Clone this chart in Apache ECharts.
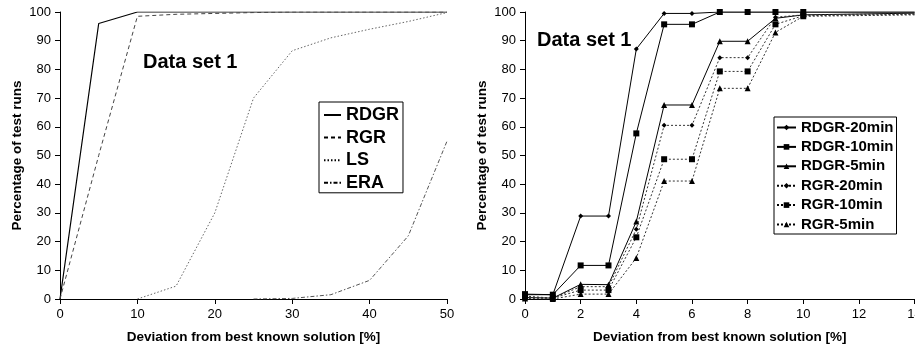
<!DOCTYPE html>
<html><head><meta charset="utf-8">
<script src="https://cdn.jsdelivr.net/npm/echarts@6/dist/echarts.min.js"></script>
<style>html,body{margin:0;padding:0;background:#fff}#c{width:915px;height:350px}</style>
</head><body><div id="c"></div>
<script>
// Left chart data (x in %, y in %)
const leftX = [0, 5, 10, 15, 20, 25, 30, 35, 40, 45, 50];
const RDGR = [0, 96, 100, 100, 100, 100, 100, 100, 100, 100, 100];
const RGR  = [0, 50, 98.5, 99.2, 99.5, 99.8, 100, 100, 100, 100, 100];
const LS   = [null, null, 0, 4.5, 30, 70, 86.5, 91, 94, 96.7, 99.8];
const ERA  = [null, null, null, null, null, 0, 0.2, 1.5, 6.5, 22, 55];

// Right chart data
const rightX = [0, 1, 2, 3, 4, 5, 6, 7, 8, 9, 10, 14];
const RDGR20 = [1.5, 1.5, 28.9, 28.9, 87.1, 99.5, 99.5, 100, 100, 100, 100, 100];
const RDGR10 = [1.7, 1.5, 11.7, 11.7, 57.7, 95.7, 95.7, 100, 100, 100, 100, 100];
const RDGR5  = [0.5, 0.3, 5.1, 5.0, 27, 67.6, 67.6, 89.8, 89.8, 97.8, 99, 99.6];
const RGR20  = [0.6, 0.3, 4.3, 4.3, 24.3, 60.5, 60.5, 84.1, 84.1, 98.2, 99, 99.4];
const RGR10  = [1.0, 0.3, 3.1, 3.1, 21.5, 48.7, 48.7, 79.3, 79.3, 95.7, 98.7, 99.2];
const RGR5   = [0.2, 0.0, 1.7, 1.7, 14.3, 41.1, 41.1, 73.4, 73.4, 92.9, 98.5, 99.0];

const leftTicks = {min: 0, max: 50, interval: 10};
const rightTicks = {min: 0, max: 14, interval: 2};
const yTicks = {min: 0, max: 100, interval: 10};

const FONT = 'Liberation Sans';
function pairs(xs, ys, markerUntil) {
  const out = [];
  xs.forEach((x, i) => {
    if (ys[i] === null) return;
    const item = {value: [x, ys[i]]};
    if (markerUntil !== undefined && x > markerUntil) item.symbol = 'none';
    out.push(item);
  });
  return out;
}
function xAxis(idx, t) {
  return {
    type: 'value', gridIndex: idx, min: t.min, max: t.max, interval: t.interval,
    name: 'Deviation from best known solution [%]', nameLocation: 'middle', nameGap: 31,
    nameTextStyle: {fontFamily: FONT, fontWeight: 'bold', fontSize: 13.5, color: '#000'},
    axisLine: {lineStyle: {color: '#000', width: 1}},
    axisTick: {show: true, length: 5, lineStyle: {color: '#000'}},
    axisLabel: {fontFamily: FONT, fontSize: 13, color: '#000', margin: 9},
    splitLine: {show: false}
  };
}
function yAxis(idx) {
  return {
    type: 'value', gridIndex: idx, min: yTicks.min, max: yTicks.max, interval: yTicks.interval,
    name: 'Percentage of test runs', nameLocation: 'middle', nameGap: 36, nameRotate: 90,
    nameTextStyle: {fontFamily: FONT, fontWeight: 'bold', fontSize: 13.5, color: '#000'},
    axisLine: {show: true, lineStyle: {color: '#000', width: 1}},
    axisTick: {show: true, length: 5, lineStyle: {color: '#000'}},
    axisLabel: {fontFamily: FONT, fontSize: 13, color: '#000', margin: 9},
    splitLine: {show: false}
  };
}
function leftSeries(name, ys, ls) {
  return {name, type: 'line', xAxisIndex: 0, yAxisIndex: 0, data: pairs(leftX, ys),
    symbol: 'none', lineStyle: ls, itemStyle: {color: ls.color}, animation: false};
}
function rightSeries(name, ys, sym, size, ls) {
  return {name, type: 'line', xAxisIndex: 1, yAxisIndex: 1, data: pairs(rightX, ys, 10),
    symbol: sym, symbolSize: size, showAllSymbol: true,
    lineStyle: ls, itemStyle: {color: '#000', borderWidth: 0}, animation: false};
}
const solid = {color: '#000', width: 1, type: 'solid'};
const dash = {color: '#333', width: 1, type: [2, 2]};

const chart = echarts.init(document.getElementById('c'), null, {renderer: 'canvas'});
chart.setOption({
  backgroundColor: '#fff',
  animation: false,
  title: [
    {text: 'Data set 1', left: 143, top: 52, padding: 0,
     textStyle: {fontFamily: FONT, fontWeight: 'bold', fontSize: 20, color: '#000'}},
    {text: 'Data set 1', left: 537, top: 30, padding: 0,
     textStyle: {fontFamily: FONT, fontWeight: 'bold', fontSize: 20, color: '#000'}}
  ],
  grid: [
    {left: 60, top: 12, width: 387, height: 287, outerBoundsMode: 'none', containLabel: false},
    {left: 525, top: 12, width: 389.6, height: 287, outerBoundsMode: 'none', containLabel: false}
  ],
  xAxis: [xAxis(0, leftTicks), xAxis(1, rightTicks)],
  yAxis: [yAxis(0), yAxis(1)],
  legend: [
    {data: ['RDGR', 'RGR', 'LS', 'ERA'], orient: 'vertical', left: 319, top: 102,
     itemWidth: 17, itemHeight: 14, itemGap: 4.6, padding: [4, 4, 1, 4],
     itemStyle: {opacity: 0}, lineStyle: {color: '#000'},
     borderColor: '#000', borderWidth: 1, backgroundColor: '#fff', selectedMode: false,
     textStyle: {fontFamily: FONT, fontWeight: 'bold', fontSize: 18, color: '#000', lineHeight: 18}},
    {data: ['RDGR-20min', 'RDGR-10min', 'RDGR-5min', 'RGR-20min', 'RGR-10min', 'RGR-5min'],
     orient: 'vertical', left: 774, top: 117,
     itemWidth: 19, itemHeight: 7, itemGap: 2.4, padding: [2, 3, 1, 2],
     lineStyle: {color: '#000'},
     borderColor: '#000', borderWidth: 1, backgroundColor: '#fff', selectedMode: false,
     textStyle: {fontFamily: FONT, fontWeight: 'bold', fontSize: 15, color: '#000', lineHeight: 17}}
  ],
  series: [
    leftSeries('RDGR', RDGR, {color: '#000', width: 1.2, type: 'solid'}),
    leftSeries('RGR', RGR, {color: '#444', width: 1, type: [4, 3]}),
    leftSeries('LS', LS, {color: '#666', width: 1, type: [1.5, 2]}),
    leftSeries('ERA', ERA, {color: '#555', width: 1, type: [4, 2, 1.5, 2]}),
    rightSeries('RDGR-20min', RDGR20, 'diamond', 5, solid),
    rightSeries('RDGR-10min', RDGR10, 'rect', 6, solid),
    rightSeries('RDGR-5min', RDGR5, 'triangle', 6, solid),
    rightSeries('RGR-20min', RGR20, 'diamond', 5, dash),
    rightSeries('RGR-10min', RGR10, 'rect', 6, dash),
    rightSeries('RGR-5min', RGR5, 'triangle', 6, dash)
  ]
});
</script></body></html>
